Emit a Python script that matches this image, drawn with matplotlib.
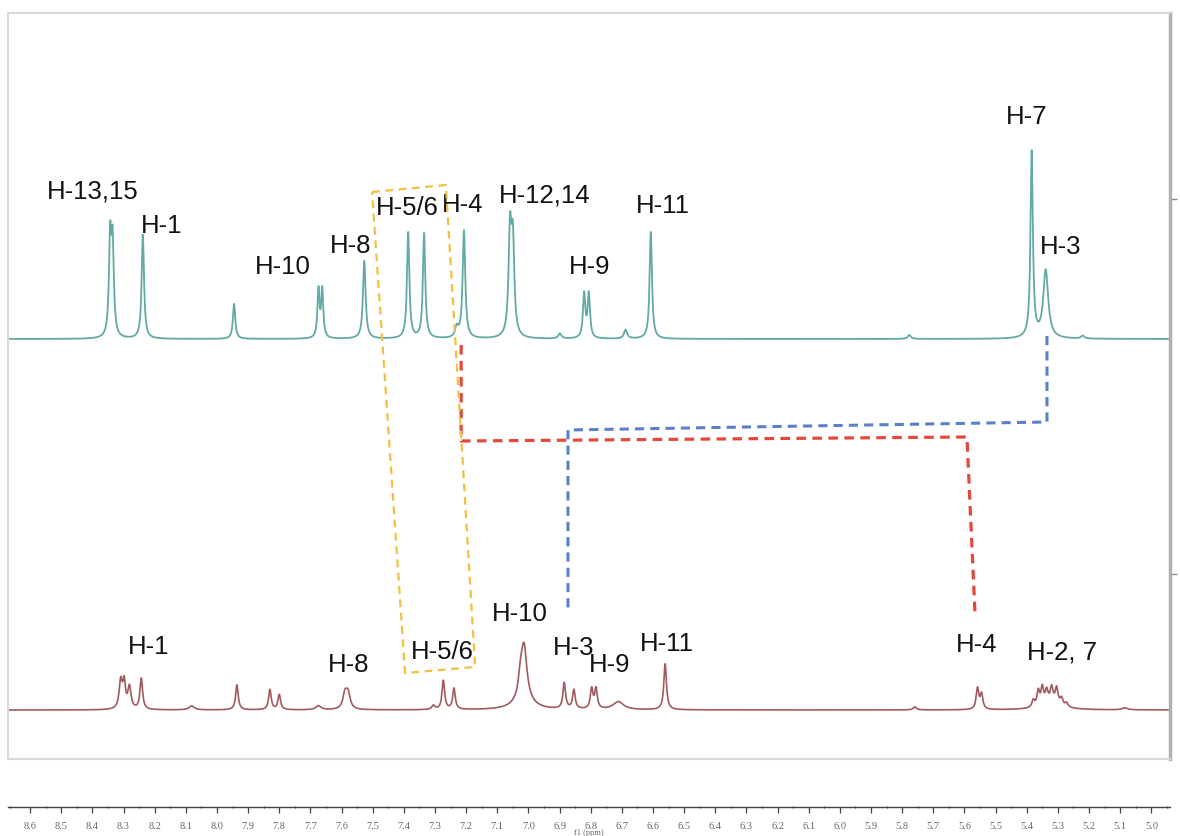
import numpy as np
import matplotlib
matplotlib.use("Agg")
import matplotlib.pyplot as plt
from matplotlib.patches import Polygon

# ---------------- data ----------------
# upper spectrum: peak positions (ppm), heights, half widths (ppm)
top_ppm = [8.343, 8.335, 8.238, 7.945, 7.674, 7.662, 7.527, 7.386, 7.335,
           7.230, 7.207, 7.059, 7.050, 6.899, 6.821, 6.806, 6.688, 6.607,
           5.777, 5.384, 5.339, 5.220]
top_height = [96, 90, 104, 35, 48, 48, 78, 106, 105,
              10, 108, 102, 90, 5, 44, 44, 9, 107,
              4, 186, 68, 3]
top_width = [0.0045, 0.0045, 0.0045, 0.0045, 0.004, 0.004, 0.005, 0.0045, 0.0045,
             0.006, 0.005, 0.0055, 0.0055, 0.006, 0.0045, 0.0045, 0.006, 0.0045,
             0.006, 0.0045, 0.0095, 0.006]

# lower spectrum
bot_ppm = [8.309, 8.298, 8.281, 8.243, 8.081, 7.936, 7.830, 7.800, 7.674,
           7.589, 7.579, 7.305, 7.273, 7.239, 7.025, 7.014, 7.016,
           6.885, 6.854, 6.797, 6.783, 6.711, 6.561, 5.759,
           5.558, 5.545, 5.379, 5.363, 5.350, 5.336, 5.320, 5.304, 5.288,
           5.272, 5.320, 5.085]
bot_height = [28, 25, 22, 31, 4, 25, 20, 15, 4,
              15, 15, 4, 29, 21, 18, 52, 9,
              26, 19, 20, 20, 8, 46, 3,
              21, 15, 7, 15, 17, 12, 14, 15, 7,
              4, 8, 2]
bot_width = [0.006, 0.005, 0.006, 0.005, 0.01, 0.005, 0.005, 0.005, 0.01,
             0.008, 0.008, 0.006, 0.005, 0.005, 0.008, 0.011, 0.035,
             0.005, 0.005, 0.005, 0.005, 0.02, 0.005, 0.006,
             0.005, 0.005, 0.005, 0.005, 0.005, 0.005, 0.005, 0.005, 0.005,
             0.005, 0.035, 0.01]

# peak labels: text, ppm position, label height
top_labels = ["H-13,15", "H-1", "H-10", "H-8", "H-5/6", "H-4", "H-12,14",
              "H-9", "H-11", "H-7", "H-3"]
top_label_ppm = [8.398, 8.179, 7.788, 7.570, 7.390, 7.210, 6.947,
                 6.802, 6.568, 5.399, 5.290]
top_label_y = [568, 534, 493, 514, 552, 555, 565, 493, 554, 643, 513]

bot_labels = ["H-1", "H-8", "H-5/6", "H-10", "H-3", "H-9", "H-11", "H-4", "H-2, 7"]
bot_label_ppm = [8.221, 7.576, 7.277, 7.027, 6.854, 6.738, 6.555, 5.560, 5.287]
bot_label_y = [113, 95, 108, 146, 112, 95, 116, 115, 107]

# correlation guides (ppm, height)
red_ppm = [7.216, 7.216, 5.592, 5.566]
red_y = [414, 318, 322, 145]
blue_ppm = [5.335, 5.335, 6.873, 6.873]
blue_y = [423, 337, 329, 148]
box_ppm = [7.502, 7.265, 7.171, 7.396]
box_y = [567, 574, 92, 86]

tick_values = [8.6, 8.5, 8.4, 8.3, 8.2, 8.1, 8.0, 7.9, 7.8, 7.7, 7.6, 7.5, 7.4,
               7.3, 7.2, 7.1, 7.0, 6.9, 6.8, 6.7, 6.6, 6.5, 6.4, 6.3, 6.2, 6.1,
               6.0, 5.9, 5.8, 5.7, 5.6, 5.5, 5.4, 5.3, 5.2, 5.1, 5.0]

# ---------------- figure ----------------
W, H = 1180, 837
fig = plt.figure(figsize=(W / 100, H / 100), dpi=100)
fig.patch.set_facecolor("white")

x_left, x_right = 8, 1170
y_top, y_bot = 14, 760
ax = fig.add_axes([x_left / W, (H - y_bot) / H, (x_right - x_left) / W, (y_bot - y_top) / H])
XMAX, XMIN = 8.671, 4.940
ax.set_xlim(XMAX, XMIN)
ax.set_ylim(0, y_bot - y_top)

x = np.linspace(XMIN, XMAX, 8000)


def spectrum(pos, hei, wid):
    s = np.zeros_like(x)
    for p, h, w in zip(pos, hei, wid):
        s += h / (1.0 + ((x - p) / w) ** 2)
    return s


top_base = 420
bot_base = 49
ax.plot(x, top_base + spectrum(top_ppm, top_height, top_width),
        color="#62aaa5", lw=1.3)
ax.plot(x, bot_base + spectrum(bot_ppm, bot_height, bot_width),
        color="#a15a5d", lw=1.2)

font = dict(family=["Liberation Sans", "DejaVu Sans"], fontsize=18.5, color="#111111")
for t, p, yy in zip(top_labels, top_label_ppm, top_label_y):
    ax.text(p, yy, t, ha="center", va="center", **font)
for t, p, yy in zip(bot_labels, bot_label_ppm, bot_label_y):
    ax.text(p, yy, t, ha="center", va="center", **font)

ax.plot(red_ppm, red_y, color="#e4483a", lw=2.3, ls=(0, (3, 2)), zorder=3)
ax.plot(blue_ppm, blue_y, color="#5a80c8", lw=2.2, ls=(0, (3, 2)), zorder=3)
ax.add_patch(Polygon(list(zip(box_ppm, box_y)), closed=True, fill=False,
                     edgecolor="#f0c040", lw=1.6, ls=(0, (3.5, 2.5)), zorder=3))

ax.set_xticks([])
ax.yaxis.tick_right()
ax.set_yticks([185, 560])
ax.tick_params(axis="y", length=5, width=1, color="#888888", labelright=False)
for s in ["top", "left", "bottom"]:
    ax.spines[s].set_color("#d8d8d8")
    ax.spines[s].set_linewidth(1.5)
ax.spines["right"].set_color("#b0b0b0")
ax.spines["right"].set_linewidth(2.5)

# ---------------- ppm scale below ----------------
y_axis = 808
ax2 = fig.add_axes([x_left / W, (H - y_axis) / H, (x_right - x_left) / W, 0.0001])
ax2.set_xlim(XMAX, XMIN)
ax2.set_ylim(0, 1)
for s in ["top", "left", "right"]:
    ax2.spines[s].set_visible(False)
ax2.spines["bottom"].set_color("#444444")
ax2.spines["bottom"].set_linewidth(1.0)
ax2.set_yticks([])
ax2.set_xticks(tick_values)
ax2.set_xticklabels([f"{v:.1f}" for v in tick_values],
                    family=["Liberation Serif", "DejaVu Serif"], fontsize=7.5, color="#666666")
ax2.set_xticks([v - 0.05 for v in tick_values] + [XMAX - 0.005], minor=True)
ax2.tick_params(axis="x", which="major", length=4, width=0.9, color="#444444", pad=6)
ax2.tick_params(axis="x", which="minor", length=2, width=0.9, color="#444444", direction="inout")
ax2.set_xlabel("f1 (ppm)", family=["Liberation Serif", "DejaVu Serif"], fontsize=6,
               color="#666666", labelpad=-1)

fig.savefig("out.png", dpi=100, facecolor="white")
